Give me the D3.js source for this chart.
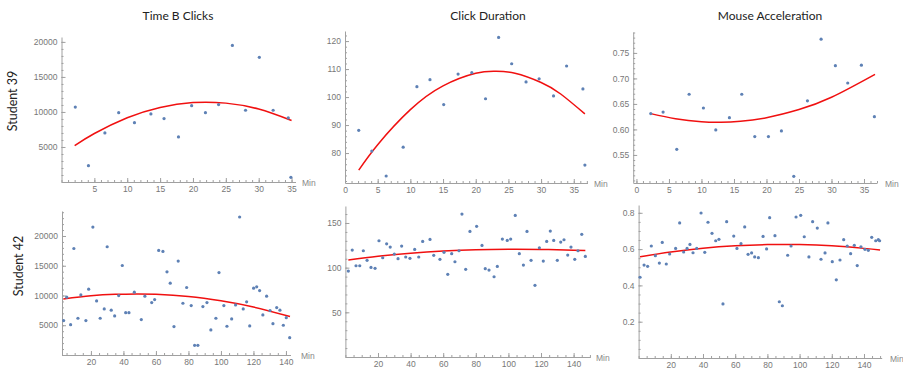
<!DOCTYPE html>
<html>
<head>
<meta charset="utf-8">
<script src="https://cdn.jsdelivr.net/npm/d3@7"></script>
<style>
  body { margin: 0; background: #fff; }
  svg { display: block; }
  .tick text { fill: #777; font-family: "Liberation Sans", Arial, sans-serif; font-size: 8.5px; }
  .axis path, .axis line { stroke: #a0a0a0; stroke-width: 1; }
  .ttl { font-family: Lato, "Open Sans", sans-serif; font-size: 12px; fill: #222; }
  .row { font-family: Lato, "Open Sans", sans-serif; font-size: 12.5px; fill: #222; }
  .unit { font-family: "Liberation Sans", Arial, sans-serif; font-size: 8.5px; fill: #888; }
</style>
</head>
<body>
<div id="chart"></div>
<script>
// Student 39 - Time B Clicks
const s39ClicksX = [2.1, 4.1, 6.6, 8.7, 11.1, 13.6, 15.6, 17.8, 19.8, 21.9, 23.9, 26.0, 28.0, 30.1, 32.2, 34.5, 34.9];
const s39ClicksY = [10700, 2330, 7000, 9900, 8470, 9720, 9050, 6430, 10900, 9900, 11050, 19500, 10240, 17800, 10240, 9150, 670];
const s39ClicksFitX = [2, 5, 10, 15, 20, 25, 30, 35];
const s39ClicksFitY = [5190, 6920, 9170, 10640, 11340, 11260, 10410, 8780];

// Student 39 - Click Duration
const s39DurX = [2.1, 4.1, 6.3, 8.9, 11.0, 13.0, 15.1, 17.3, 19.4, 21.5, 23.5, 25.5, 27.7, 29.7, 31.9, 33.9, 36.4, 36.7];
const s39DurY = [88.1, 80.7, 71.8, 82.1, 103.7, 106.2, 97.3, 108.2, 108.7, 99.4, 121.3, 111.9, 105.4, 106.5, 100.4, 111.1, 102.9, 75.7];
const s39DurFitX = [2.1, 5, 10, 15, 20, 23, 26, 30, 33, 36.7];
const s39DurFitY = [73.9, 83.0, 95.5, 104.0, 108.5, 109.2, 108.5, 105.2, 101.1, 94.0];

// Student 39 - Mouse Acceleration
const s39AccX = [2.2, 4.1, 6.2, 8.1, 10.3, 12.2, 14.3, 16.2, 18.2, 20.3, 22.3, 24.2, 26.3, 28.4, 30.6, 32.5, 34.6, 36.6];
const s39AccY = [0.631, 0.634, 0.561, 0.669, 0.642, 0.599, 0.623, 0.669, 0.586, 0.586, 0.597, 0.508, 0.656, 0.777, 0.725, 0.691, 0.726, 0.625];
const s39AccFitX = [2.2, 6, 10, 13, 16, 20, 25, 30, 36.7];
const s39AccFitY = [0.631, 0.621, 0.615, 0.614, 0.616, 0.623, 0.639, 0.663, 0.708];

// Student 42 - Time B Clicks
const s42ClicksX = [3.2, 5.1, 7.5, 9.5, 12.0, 13.8, 16.9, 18.6, 21.2, 23.5, 25.7, 28.2, 30.0, 32.5, 34.6, 37.1, 39.3, 41.4, 43.4, 46.7,
  51.0, 53.2, 57.4, 59.2, 61.7, 64.3, 66.8, 68.8, 71.1, 73.7, 76.6, 78.9, 81.7, 83.8, 85.8, 88.9, 91.4, 93.8, 96.9, 98.8,
  101.8, 103.7, 106.6, 109.0, 111.5, 113.7, 115.8, 117.7, 120.1, 122.0, 123.8, 125.8, 128.1, 130.2, 132.0, 134.3, 136.3, 138.4, 140.2, 142.3];
const s42ClicksY = [5780, 9710, 5100, 17900, 6180, 10100, 5780, 11060, 21500, 9090, 6180, 7750, 18190, 7530, 6570, 9990, 15040, 7120, 7120, 10560,
  5950, 9880, 8810, 9310, 17570, 17400, 13980, 12070, 4770, 15780, 8700, 11340, 8300, 1630, 1630, 8130, 8810, 4210, 6180, 13860,
  8300, 4830, 6060, 8420, 23190, 7750, 8930, 4880, 11230, 11450, 10830, 6740, 9880, 7460, 5270, 7970, 7530, 5000, 6280, 2910];
const s42ClicksFitX = [3, 20, 35, 48, 60, 80, 100, 120, 142.5];
const s42ClicksFitY = [9430, 9950, 10200, 10270, 10200, 9830, 9110, 8060, 6470];

// Student 42 - Click Duration
const s42DurX = [1.8, 4.2, 6.5, 8.8, 11.0, 13.3, 15.7, 18.2, 20.6, 22.9, 25.3, 27.5, 30.0, 32.3, 34.5, 37.0, 39.6, 42.5, 45.0, 47.4,
  51.9, 54.2, 58.0, 60.5, 62.8, 65.2, 67.2, 69.7, 71.5, 73.8, 76.4, 80.5, 83.8, 85.8, 88.1, 91.2, 93.2, 96.3, 99.3, 101.4,
  104.2, 106.7, 109.2, 111.4, 113.9, 116.3, 119.0, 121.4, 123.5, 125.7, 127.8, 130.0, 132.1, 134.1, 136.4, 138.4, 140.7, 142.7, 145.0, 147.2];
const s42DurY = [96.2, 119.7, 102.1, 102.1, 118.9, 108.2, 100.3, 99.2, 130.1, 111.1, 126.7, 123.0, 115.2, 110.0, 124.2, 111.9, 110.4, 120.4, 111.9, 129.4,
  131.6, 113.8, 109.3, 117.1, 92.5, 115.6, 106.6, 118.9, 160.0, 98.1, 140.6, 146.2, 124.9, 98.8, 97.3, 89.8, 101.4, 132.0, 130.5, 132.0,
  158.5, 115.6, 102.9, 140.6, 108.2, 80.2, 122.3, 107.4, 129.4, 140.9, 130.5, 108.2, 128.6, 131.2, 114.1, 123.0, 109.3, 118.9, 137.3, 112.6];
const s42DurFitX = [1.8, 20, 40, 60, 80, 100, 120, 140, 147.2];
const s42DurFitY = [108.5, 112.8, 116.2, 118.6, 120.1, 120.6, 120.4, 119.6, 119.3];

// Student 42 - Mouse Acceleration
const s42AccX = [0.9, 3.4, 5.6, 7.9, 10.4, 12.9, 14.7, 17.2, 19.3, 23.0, 25.5, 28.0, 30.1, 31.9, 33.8, 36.1, 38.8, 41.1, 43.1, 45.6,
  47.9, 49.9, 52.4, 54.7, 59.1, 61.1, 63.6, 65.9, 68.0, 70.2, 72.1, 74.4, 77.3, 79.5, 81.4, 84.7, 87.4, 89.3, 92.6, 94.7,
  97.8, 100.7, 102.9, 105.8, 108.1, 111.0, 113.3, 115.8, 117.6, 120.3, 122.8, 125.1, 127.4, 129.6, 131.7, 134.0, 135.8, 138.1, 140.6, 142.7,
  144.8, 147.3, 148.9, 149.7];
const s42AccY = [0.445, 0.512, 0.505, 0.617, 0.564, 0.523, 0.637, 0.518, 0.573, 0.604, 0.744, 0.584, 0.604, 0.626, 0.580, 0.604, 0.799, 0.582, 0.748, 0.687,
  0.646, 0.654, 0.298, 0.751, 0.672, 0.604, 0.630, 0.722, 0.571, 0.579, 0.557, 0.553, 0.670, 0.601, 0.773, 0.674, 0.310, 0.288, 0.566, 0.617,
  0.777, 0.786, 0.668, 0.557, 0.751, 0.716, 0.544, 0.579, 0.744, 0.531, 0.431, 0.540, 0.652, 0.617, 0.575, 0.621, 0.509, 0.613, 0.599, 0.593,
  0.665, 0.646, 0.652, 0.646];
const s42AccFitX = [0.9, 20, 40, 60, 80, 90, 100, 120, 140, 150];
const s42AccFitY = [0.558, 0.584, 0.605, 0.618, 0.625, 0.626, 0.625, 0.618, 0.604, 0.595];

// titles and tick values
const colTitles = ['Time B Clicks', 'Click Duration', 'Mouse Acceleration'];
const rowTitles = ['Student 39', 'Student 42'];
const xTicksTop = [5, 10, 15, 20, 25, 30, 35];
const xTicksTopZero = [0, 5, 10, 15, 20, 25, 30, 35];
const xTicksBottom = [20, 40, 60, 80, 100, 120, 140];
const yTicksClicks39 = [5000, 10000, 15000, 20000];
const yTicksDur39 = [80, 90, 100, 110, 120];
const yTicksAcc39 = [0.55, 0.60, 0.65, 0.70, 0.75];
const yTicksClicks42 = [5000, 10000, 15000, 20000];
const yTicksDur42 = [50, 100, 150];
const yTicksAcc42 = [0.2, 0.4, 0.6, 0.8];

const W = 903, H = 369;
const svg = d3.select('#chart').append('svg').attr('width', W).attr('height', H);

// plot boxes (pixel layout) for each panel
const panels = [
  { xs: s39ClicksX, ys: s39ClicksY, fx: s39ClicksFitX, fy: s39ClicksFitY,
    xd: [0, 35.6], xr: [61.5, 295.5], yd: [0, 20700], yr: [182, 37],
    xt: xTicksTop, xm: 1, yt: yTicksClicks39, ym: 1000, fmt: d3.format('d'), unitX: 302 },
  { xs: s39DurX, ys: s39DurY, fx: s39DurFitX, fy: s39DurFitY,
    xd: [0, 37.1], xr: [345, 587.5], yd: [69.3, 123.6], yr: [183, 31],
    xt: xTicksTopZero, xm: 1, yt: yTicksDur39, ym: 2, fmt: d3.format('d'), unitX: 594 },
  { xs: s39AccX, ys: s39AccY, fx: s39AccFitX, fy: s39AccFitY,
    xd: [-0.5, 37.0], xr: [633.2, 877], yd: [0.495, 0.791], yr: [183, 32],
    xt: xTicksTopZero, xm: 1, yt: yTicksAcc39, ym: 0.01, fmt: d3.format('.2f'), unitX: 885 },
  { xs: s42ClicksX, ys: s42ClicksY, fx: s42ClicksFitX, fy: s42ClicksFitY,
    xd: [2.2, 142.8], xr: [62, 290.5], yd: [0, 24200], yr: [355, 211],
    xt: xTicksBottom, xm: 5, yt: yTicksClicks42, ym: 1000, fmt: d3.format('d'), unitX: 301 },
  { xs: s42DurX, ys: s42DurY, fx: s42DurFitX, fy: s42DurFitY,
    xd: [0, 150.3], xr: [345.4, 590.4], yd: [0, 169], yr: [357, 206],
    xt: xTicksBottom, xm: 5, yt: yTicksDur42, ym: 10, fmt: d3.format('d'), unitX: 596 },
  { xs: s42AccX, ys: s42AccY, fx: s42AccFitX, fy: s42AccFitY,
    xd: [0, 151], xr: [638.6, 881.7], yd: [0, 0.843], yr: [358, 205],
    xt: xTicksBottom, xm: 5, yt: yTicksAcc42, ym: 0.05, fmt: d3.format('.1f'), unitX: 890 }
];

function minorTicks(domain, step) {
  const out = [];
  const start = Math.ceil(domain[0] / step - 1e-9);
  for (let i = start; i * step <= domain[1] + 1e-9; i++) out.push(+(i * step).toFixed(6));
  return out;
}

panels.forEach((p) => {
  const x = d3.scaleLinear().domain(p.xd).range(p.xr);
  const y = d3.scaleLinear().domain(p.yd).range(p.yr);
  const g = svg.append('g');
  const x0 = p.xr[0], y0 = p.yr[0];

  // minor ticks
  g.append('g').attr('class', 'axis').attr('transform', `translate(0,${y0})`)
    .call(d3.axisBottom(x).tickValues(minorTicks(p.xd, p.xm)).tickSize(-2).tickFormat('').tickSizeOuter(0))
    .call((s) => s.select('.domain').remove());
  g.append('g').attr('class', 'axis').attr('transform', `translate(${x0},0)`)
    .call(d3.axisLeft(y).tickValues(minorTicks(p.yd, p.ym)).tickSize(-2).tickFormat('').tickSizeOuter(0))
    .call((s) => s.select('.domain').remove());

  // major ticks + axis lines
  g.append('g').attr('class', 'axis').attr('transform', `translate(0,${y0})`)
    .call(d3.axisBottom(x).tickValues(p.xt).tickSize(-4).tickSizeOuter(0).tickPadding(4));
  g.append('g').attr('class', 'axis').attr('transform', `translate(${x0},0)`)
    .call(d3.axisLeft(y).tickValues(p.yt).tickSize(-4).tickSizeOuter(0).tickPadding(4).tickFormat(p.fmt));

  g.append('text').attr('class', 'unit').attr('x', p.unitX).attr('y', y0 + 4).text('Min');

  // fitted curve
  const fit = d3.zip(p.fx, p.fy);
  g.append('path').datum(fit)
    .attr('fill', 'none').attr('stroke', '#f01010').attr('stroke-width', 1.5)
    .attr('d', d3.line().x((d) => x(d[0])).y((d) => y(d[1])).curve(d3.curveNatural));

  // points
  g.append('g').selectAll('circle').data(d3.zip(p.xs, p.ys)).join('circle')
    .attr('cx', (d) => x(d[0])).attr('cy', (d) => y(d[1])).attr('r', 1.6)
    .attr('fill', '#5e81b5');
});

// column titles
const titleX = [178, 488, 770];
svg.selectAll('text.ttl').data(colTitles).join('text').attr('class', 'ttl')
  .attr('x', (d, i) => titleX[i]).attr('y', 20).attr('text-anchor', 'middle').text((d) => d);

// row titles
const rowPos = [[17, 101], [23, 266]];
svg.selectAll('text.row').data(rowTitles).join('text').attr('class', 'row')
  .attr('transform', (d, i) => `translate(${rowPos[i][0]},${rowPos[i][1]}) rotate(-90)`)
  .attr('text-anchor', 'middle').text((d) => d);
</script>
</body>
</html>
